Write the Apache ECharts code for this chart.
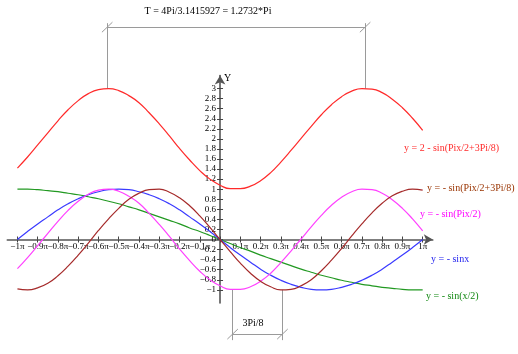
<!DOCTYPE html>
<html>
<head>
<meta charset="utf-8">
<script src="https://cdn.jsdelivr.net/npm/echarts@6/dist/echarts.min.js"></script>
<style>
  html, body { margin: 0; padding: 0; background: #fff; }
  #chart { width: 518px; height: 354px; }
</style>
</head>
<body>
<div id="chart"></div>
<script>
"use strict";

/* ---------- 数据（x 以 π 为单位） ---------- */
const xs = [-1, -0.95, -0.9, -0.85, -0.8, -0.75, -0.7, -0.65, -0.6, -0.55, -0.5,
            -0.45, -0.4, -0.35, -0.3, -0.25, -0.2, -0.15, -0.1, -0.05, 0,
            0.05, 0.1, 0.15, 0.2, 0.25, 0.3, 0.35, 0.4, 0.45, 0.5,
            0.55, 0.6, 0.65, 0.7, 0.75, 0.8, 0.85, 0.9, 0.95, 1];

const redVals = [1.42, 1.64, 1.88, 2.12, 2.36, 2.58, 2.76, 2.90, 2.98, 3.00, 2.96,
                 2.86, 2.72, 2.52, 2.30, 2.06, 1.81, 1.58, 1.37, 1.20, 1.08,
                 1.01, 1.01, 1.06, 1.17, 1.33, 1.54, 1.77, 2.01, 2.25, 2.48,
                 2.68, 2.84, 2.95, 3.00, 2.99, 2.92, 2.79, 2.62, 2.41, 2.17];

const brownVals = [-0.98, -1.00, -0.96, -0.87, -0.72, -0.53, -0.31, -0.07, 0.18, 0.41, 0.62,
                   0.80, 0.92, 0.99, 1.00, 0.94, 0.83, 0.67, 0.47, 0.24, 0,
                   -0.24, -0.47, -0.67, -0.83, -0.94, -1.00, -0.99, -0.92, -0.80, -0.62,
                   -0.41, -0.18, 0.07, 0.31, 0.53, 0.72, 0.87, 0.96, 1.00, 0.98];

const magentaVals = [-0.58, -0.36, -0.12, 0.12, 0.36, 0.58, 0.76, 0.90, 0.98, 1.00, 0.96,
                     0.86, 0.72, 0.52, 0.30, 0.06, -0.19, -0.42, -0.63, -0.80, -0.92,
                     -0.99, -0.99, -0.94, -0.83, -0.67, -0.46, -0.23, 0.01, 0.25, 0.48,
                     0.68, 0.84, 0.95, 1.00, 0.99, 0.92, 0.79, 0.62, 0.41, 0.17];

const blueVals = [0, 0.16, 0.31, 0.45, 0.59, 0.71, 0.81, 0.89, 0.95, 0.99, 1,
                  0.99, 0.95, 0.89, 0.81, 0.71, 0.59, 0.45, 0.31, 0.16, 0,
                  -0.16, -0.31, -0.45, -0.59, -0.71, -0.81, -0.89, -0.95, -0.99, -1,
                  -0.99, -0.95, -0.89, -0.81, -0.71, -0.59, -0.45, -0.31, -0.16, 0];

const greenVals = [1, 1.00, 0.99, 0.97, 0.95, 0.92, 0.89, 0.85, 0.81, 0.76, 0.71,
                   0.65, 0.59, 0.52, 0.45, 0.38, 0.31, 0.23, 0.16, 0.08, 0,
                   -0.08, -0.16, -0.23, -0.31, -0.38, -0.45, -0.52, -0.59, -0.65, -0.71,
                   -0.76, -0.81, -0.85, -0.89, -0.92, -0.95, -0.97, -0.99, -1.00, -1];

const xTicks = [-1, -0.9, -0.8, -0.7, -0.6, -0.5, -0.4, -0.3, -0.2, -0.1, 0,
                0.1, 0.2, 0.3, 0.4, 0.5, 0.6, 0.7, 0.8, 0.9, 1];
const yTicks = [-1, -0.8, -0.6, -0.4, -0.2, 0, 0.2, 0.4, 0.6, 0.8, 1,
                1.2, 1.4, 1.6, 1.8, 2, 2.2, 2.4, 2.6, 2.8, 3];

// 标注尺寸线（数据坐标）：周期 T 与相位差 3Pi/8
const periodMarks = [-0.557, 0.716];
const phaseMarks  = [0.062, 0.308];

/* ---------- 布局 ---------- */
const X_MIN = -1.05, X_MAX = 1.05, Y_MIN = -1.26, Y_MAX = 3.26;
const G = { left: 7.3, right: 85.2, top: 75.5, bottom: 51.1 };
const W = 518, H = 354;
// 坐标轴十字交点的像素位置（x=0, y=0）
const ORIGIN_X = G.left + (0 - X_MIN) / (X_MAX - X_MIN) * (W - G.left - G.right);
const ORIGIN_Y = G.top + (Y_MAX - 0) / (Y_MAX - Y_MIN) * (H - G.top - G.bottom);

/* ---------- 工具 ---------- */
const SERIF = '"Liberation Serif", "Times New Roman", serif';
const pair = vals => xs.map((x, i) => [x, vals[i]]);
const fmtNum = v => String(Math.round(v * 10) / 10).replace("-", "\u2212");

function dimSegments(marks, yFrom, yTo, yLine) {
  const segs = [];
  marks.forEach(m => {
    segs.push([[m, yFrom], [m, yTo]]);
    segs.push([[m - 0.026, yLine - 0.1], [m + 0.026, yLine + 0.1]]);
  });
  segs.push([[marks[0], yLine], [marks[1], yLine]]);
  return segs.map(s => ({ coords: s }));
}

function curve(name, vals, color) {
  return {
    name, type: "line", smooth: true, showSymbol: false, silent: true,
    data: pair(vals),
    lineStyle: { color, width: 1.2 },
    itemStyle: { color }
  };
}

function label(text, x, y, color, align) {
  return {
    type: "text", x, y, silent: true,
    style: {
      text, fill: color, font: "10px " + SERIF,
      textAlign: align || "left", textVerticalAlign: "middle",
      align: align || "left", verticalAlign: "middle"
    }
  };
}

const hidden = (gridIndex, min, max) => ({ type: "value", gridIndex, min, max, show: false });
const axisLineStyle = { color: "#555", width: 1.6 };
const tickStyle = { color: "#444", width: 1 };

/* ---------- 图表 ---------- */
const chart = echarts.init(document.getElementById("chart"), null, { renderer: "canvas" });

const option = {
  animation: false,
  backgroundColor: "#fff",
  grid: [
    // 0: 曲线
    Object.assign({ containLabel: false, outerBoundsMode: "none" }, G),
    // 1: x 轴（底边落在 y=0）
    { left: G.left, right: G.right, top: G.top, bottom: H - ORIGIN_Y, containLabel: false, outerBoundsMode: "none" },
    // 2: y 轴（左边落在 x=0）
    { left: ORIGIN_X, right: G.right, top: G.top, bottom: G.bottom, containLabel: false, outerBoundsMode: "none" }
  ],
  xAxis: [
    hidden(0, X_MIN, X_MAX),
    {
      type: "value", gridIndex: 1, min: X_MIN, max: X_MAX, position: "bottom",
      axisLine: { onZero: false, lineStyle: axisLineStyle, symbol: ["none", "arrow"], symbolSize: [8, 9] },
      axisTick: { show: true, length: 3, customValues: xTicks, lineStyle: tickStyle },
      axisLabel: {
        customValues: xTicks, margin: 3, color: "#000", fontSize: 9, fontFamily: SERIF,
        formatter: v => (Math.abs(v) < 1e-9 ? "" : fmtNum(v) + "\u03c0")
      },
      splitLine: { show: false }
    },
    {
      type: "value", gridIndex: 1, min: X_MIN, max: X_MAX, position: "bottom",
      axisLine: { show: false, onZero: false },
      axisTick: { show: true, inside: true, length: 3, customValues: xTicks, lineStyle: tickStyle },
      axisLabel: { show: false },
      splitLine: { show: false }
    },
    hidden(2, 0, 1)
  ],
  yAxis: [
    hidden(0, Y_MIN, Y_MAX),
    hidden(1, 0, 1),
    {
      type: "value", gridIndex: 2, min: Y_MIN, max: Y_MAX, position: "left",
      axisLine: { onZero: false, lineStyle: axisLineStyle, symbol: ["none", "arrow"], symbolSize: [8, 9] },
      axisTick: { show: true, length: 3, customValues: yTicks, lineStyle: tickStyle },
      axisLabel: {
        customValues: yTicks, margin: 4, color: "#000", fontSize: 9, fontFamily: SERIF,
        formatter: v => fmtNum(v)
      },
      splitLine: { show: false }
    },
    {
      type: "value", gridIndex: 2, min: Y_MIN, max: Y_MAX, position: "left",
      axisLine: { show: false, onZero: false },
      axisTick: { show: true, inside: true, length: 3, customValues: yTicks, lineStyle: tickStyle },
      axisLabel: { show: false },
      splitLine: { show: false }
    }
  ],
  series: [
    curve("green", greenVals, "#229922"),
    curve("blue", blueVals, "#3a3aff"),
    curve("magenta", magentaVals, "#ff40ff"),
    curve("brown", brownVals, "#a52a2a"),
    curve("red", redVals, "#ff2a2a"),
    {
      type: "lines", coordinateSystem: "cartesian2d", clip: false, silent: true,
      lineStyle: { color: "#9a9a9a", width: 1, opacity: 1 },
      data: dimSegments(periodMarks, 3.0, 4.3, 4.22)
    },
    {
      type: "lines", coordinateSystem: "cartesian2d", clip: false, silent: true,
      lineStyle: { color: "#9a9a9a", width: 1, opacity: 1 },
      data: dimSegments(phaseMarks, -1.0, -2.0, -1.88)
    }
  ],
  graphic: [
    label("T = 4Pi/3.1415927 = 1.2732*Pi", 208, 11, "#000", "center"),
    label("3Pi/8", 253, 323, "#000", "center"),
    label("Y", 224, 78, "#000"),
    label("y = 2 - sin(Pix/2+3Pi/8)", 404, 148, "#ff2a2a"),
    label("y = - sin(Pix/2+3Pi/8)", 427, 188, "#993300"),
    label("y = - sin(Pix/2)", 420, 214, "#ff00ff"),
    label("y = - sinx", 431, 259, "#2222ee"),
    label("y = - sin(x/2)", 426, 296, "#118811")
  ]
};

chart.setOption(option);
</script>
</body>
</html>
